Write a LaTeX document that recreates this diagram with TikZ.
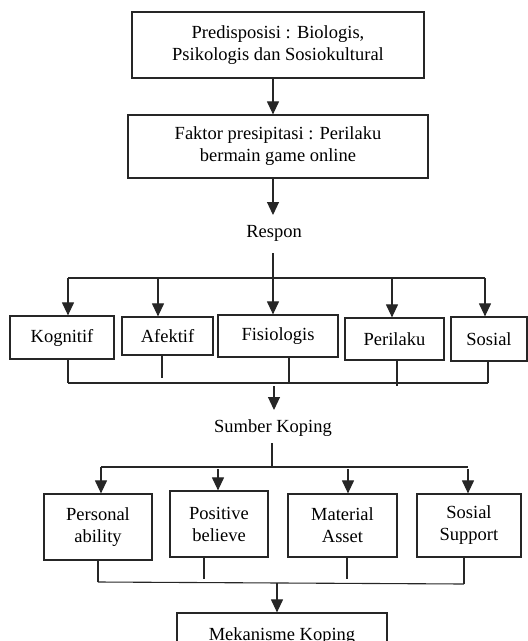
\documentclass[tikz,border=0pt]{standalone}
\usepackage{fontspec}
\setmainfont{Liberation Serif}
\usetikzlibrary{arrows.meta}
\begin{document}
\begin{tikzpicture}[x=1pt,y=-1pt,
  bx/.style={draw=black!85, line width=1.2pt, inner sep=0pt, align=center, font=\fontsize{18.5}{22}\selectfont},
  lbl/.style={inner sep=0pt, font=\fontsize{18.5}{22}\selectfont},
  ln/.style={draw=black!85, line width=1.1pt},
  arr/.style={ln, -{Triangle[width=12pt,length=13pt]}}]
\useasboundingbox (0,0) rectangle (528,641);
\clip (0,0) rectangle (528,641);

% top chain
\node[bx, minimum width=292pt, minimum height=66pt] (b1) at (278,45) {Predisposisi : Biologis,\\Psikologis dan Sosiokultural};
\node[bx, minimum width=300pt, minimum height=63pt] (b2) at (278,146.5) {Faktor presipitasi : Perilaku\\bermain game online};
\draw[arr] ([xshift=-5pt]b1.south) -- ([xshift=-5pt]b2.north);
\coordinate (respin) at (273,215);
\draw[arr] ([xshift=-5pt]b2.south) -- (respin);
\node[lbl] (resp) at (274,233) {Respon};

% response boxes
\node[bx, minimum width=104pt, minimum height=43pt] (kog) at (62,337.5) {Kognitif};
\node[bx, minimum width=91pt, minimum height=38pt] (afe) at (167.5,336) {Afektif};
\node[bx, minimum width=120pt, minimum height=42pt] (fis) at (278,336) {Fisiologis};
\node[bx, minimum width=99pt, minimum height=42pt] (per) at (394.5,339) {Perilaku};
\node[bx, minimum width=76pt, minimum height=44pt] (sos) at (489,339) {Sosial};

\coordinate (rtop) at (273,253);
\coordinate (rk) at (68,278);
\coordinate (ra) at (158,278);
\coordinate (rf) at (273,278);
\coordinate (rp) at (392,278);
\coordinate (rs) at (485,278);
\draw[ln] (resp) ++(0,0) (rtop) -- (rf);
\draw[ln] (rk) -- (rs);
\draw[arr] (rk) -- (rk |- kog.north);
\draw[arr] (ra) -- (ra |- afe.north);
\draw[arr] (rf) -- (rf |- fis.north);
\draw[arr] (rp) -- (rp |- per.north);
\draw[arr] (rs) -- (rs |- sos.north);

\coordinate (qk) at (68,383);
\coordinate (qa) at (162,378);
\coordinate (qf) at (289,383);
\coordinate (qp) at (397,386);
\coordinate (qs) at (488,383);
\draw[ln] (qk |- kog.south) -- (qk);
\draw[ln] (qa |- afe.south) -- (qa);
\draw[ln] (qf |- fis.south) -- (qf);
\draw[ln] (qp |- per.south) -- (qp);
\draw[ln] (qs |- sos.south) -- (qs);
\draw[ln] (qk) -- (qs);

\coordinate (sbstart) at (274,386);
\coordinate (sbin) at (274,410);
\draw[arr] (sbstart) -- (sbin);
\node[lbl] (sumber) at (273,428) {Sumber Koping};

% coping sources
\node[bx, minimum width=108pt, minimum height=66pt] (pa) at (98,527) {Personal\\ability};
\node[bx, minimum width=98pt, minimum height=66pt] (pb) at (219,524) {Positive\\believe};
\node[bx, minimum width=109pt, minimum height=63pt] (ma) at (342.5,525.5) {Material\\Asset};
\node[bx, minimum width=104pt, minimum height=63pt] (ss) at (469,525.5) {Sosial\\Support};

\coordinate (stop) at (272,443);
\coordinate (sbus) at (272,467);
\coordinate (s1) at (101,467);
\coordinate (s2) at (218,469);
\coordinate (s3) at (348,469);
\coordinate (s4) at (468,469);
\coordinate (s4b) at (468,467);
\draw[ln] (stop) -- (sbus);
\draw[ln] (s1) -- (s4b);
\draw[arr] (s1) -- (s1 |- pa.north);
\draw[arr] (s2) -- (s2 |- pb.north);
\draw[arr] (s3) -- (s3 |- ma.north);
\draw[arr] (s4) -- (s4 |- ss.north);

\coordinate (t1) at (98,582);
\coordinate (t2) at (204,579);
\coordinate (t3) at (347,579);
\coordinate (t4) at (464,584);
\draw[ln] (t1 |- pa.south) -- (t1);
\draw[ln] (t2 |- pb.south) -- (t2);
\draw[ln] (t3 |- ma.south) -- (t3);
\draw[ln] (t4 |- ss.south) -- (t4);
\draw[ln] (t1) -- (t4);

\node[bx, minimum width=210pt, minimum height=46pt] (mek) at (282,636) {Mekanisme Koping};
\coordinate (mstart) at (277,583);
\draw[arr] (mstart) -- (mstart |- mek.north);
\end{tikzpicture}
\end{document}
